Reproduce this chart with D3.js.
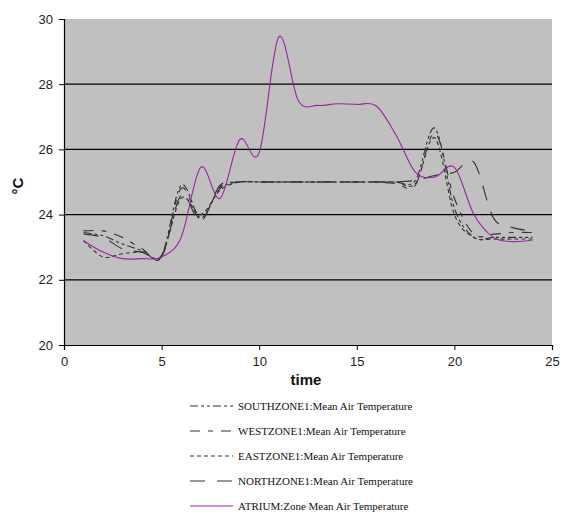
<!DOCTYPE html>
<html>
<head>
<meta charset="utf-8">
<script src="https://cdn.jsdelivr.net/npm/d3@7"></script>
<style>
  body { margin: 0; background: #fff; }
  svg { display: block; }
  .tick text { font-family: "Liberation Sans", Arial, sans-serif; font-size: 13px; fill: #222; }
</style>
</head>
<body>
<script>
// hours of the day
let hours = d3.range(1, 25);

let south = [23.45, 23.35, 23.1, 22.9, 22.75, 24.9, 23.9, 24.8, 25.0, 25.0, 25.0, 25.0,
             25.0, 25.0, 25.0, 25.0, 25.0, 25.05, 26.65, 24.2, 23.3, 23.3, 23.3, 23.3];
let west = [23.5, 23.5, 23.3, 22.95, 22.7, 24.8, 23.85, 24.85, 25.0, 25.0, 25.0, 25.0,
            25.0, 25.0, 25.0, 25.0, 24.95, 24.9, 26.5, 24.5, 23.4, 23.4, 23.45, 23.45];
let east = [23.2, 22.7, 22.8, 22.85, 22.75, 24.5, 24.0, 24.75, 25.0, 25.0, 25.0, 25.0,
            25.0, 25.0, 25.0, 25.0, 25.0, 24.95, 26.35, 24.0, 23.3, 23.25, 23.25, 23.25];
let north = [23.4, 23.3, 22.95, 22.85, 22.7, 24.6, 23.8, 24.9, 25.0, 25.0, 25.0, 25.0,
             25.0, 25.0, 25.0, 25.0, 25.0, 25.05, 25.2, 25.3, 25.6, 23.9, 23.6, 23.5];
let atrium = [23.2, 22.85, 22.65, 22.65, 22.7, 23.3, 25.45, 24.5, 26.3, 25.9, 29.45, 27.5,
              27.35, 27.4, 27.38, 27.33, 26.45, 25.3, 25.15, 25.45, 24.0, 23.3, 23.17, 23.22];

let xTicks = [0, 5, 10, 15, 20, 25];
let yTicks = [20, 22, 24, 26, 28, 30];

let series = [
    {name: 'SOUTHZONE1:Mean Air Temperature', values: south, color: '#333', dash: '8,3,3,3,3,3'},
    {name: 'WESTZONE1:Mean Air Temperature', values: west, color: '#333', dash: '10,8,5,8'},
    {name: 'EASTZONE1:Mean Air Temperature', values: east, color: '#333', dash: '4,3'},
    {name: 'NORTHZONE1:Mean Air Temperature', values: north, color: '#333', dash: '15,12'},
    {name: 'ATRIUM:Zone Mean Air Temperature', values: atrium, color: '#9b23a6', dash: null}
];

let margin = {top: 19, right: 13, bottom: 168, left: 64},
    width = 565 - margin.left - margin.right,
    height = 513 - margin.top - margin.bottom;

let svg = d3.select('body').append('svg')
    .attr('width', 565)
    .attr('height', 513);

let g = svg.append('g')
    .attr('transform', 'translate(' + margin.left + ',' + margin.top + ')');

let x = d3.scaleLinear().domain([0, 25]).range([0, width]);
let y = d3.scaleLinear().domain([20, 30]).range([height, 0]);

g.append('rect')
    .attr('width', width)
    .attr('height', height)
    .style('fill', '#c0c0c0');

// horizontal gridlines
g.selectAll('.grid').data(yTicks.filter(d => d > 20 && d < 30)).enter().append('line')
    .attr('class', 'grid')
    .attr('x1', 0).attr('x2', width)
    .attr('y1', d => y(d)).attr('y2', d => y(d))
    .style('stroke', '#000')
    .style('stroke-width', 1.3);

let xAxis = g.append('g')
    .attr('transform', 'translate(0,' + height + ')')
    .call(d3.axisBottom(x).tickValues(xTicks).tickSize(5).tickPadding(7));
let yAxis = g.append('g')
    .call(d3.axisLeft(y).tickValues(yTicks).tickSize(5).tickPadding(6));
[xAxis, yAxis].forEach(a => {
    a.select('.domain').style('stroke', '#000').style('stroke-width', 1.2);
    a.selectAll('.tick line').style('stroke', '#000');
});

let line = d3.line()
    .x((d, i) => x(hours[i]))
    .y(d => y(d))
    .curve(d3.curveCatmullRom.alpha(0));

g.selectAll('.series').data(series).enter().append('path')
    .attr('class', 'series')
    .attr('d', d => line(d.values))
    .style('fill', 'none')
    .style('stroke', d => d.color)
    .style('stroke-width', 1.1)
    .style('stroke-dasharray', d => d.dash);

// axis titles
svg.append('text')
    .attr('transform', 'translate(23,186) rotate(-90)')
    .attr('text-anchor', 'middle')
    .style('font-family', '"Liberation Sans", Arial, sans-serif')
    .style('font-size', '15px')
    .style('font-weight', 'bold')
    .style('fill', '#111')
    .text('°C');

svg.append('text')
    .attr('x', 306).attr('y', 385)
    .attr('text-anchor', 'middle')
    .style('font-family', '"Liberation Sans", Arial, sans-serif')
    .style('font-size', '15px')
    .style('font-weight', 'bold')
    .style('fill', '#111')
    .text('time');

// legend
let legend = svg.selectAll('.legend').data(series).enter().append('g')
    .attr('class', 'legend')
    .attr('transform', (d, i) => 'translate(190,' + (406 + i * 25) + ')');

legend.append('line')
    .attr('x1', 0).attr('x2', 43)
    .style('stroke', d => d.color)
    .style('stroke-width', 1.1)
    .style('stroke-dasharray', d => d.dash);

legend.append('text')
    .attr('x', 48).attr('y', 4)
    .style('font-family', '"Liberation Serif", "Times New Roman", serif')
    .style('font-size', '11px')
    .style('fill', '#111')
    .text(d => d.name);
</script>
</body>
</html>
